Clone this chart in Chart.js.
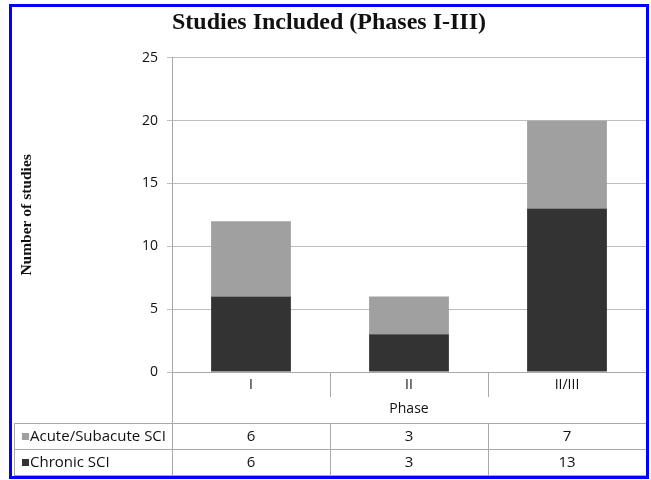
<!DOCTYPE html>
<html>
<head>
<meta charset="utf-8">
<script src="https://cdn.jsdelivr.net/npm/chart.js@4"></script>
<style>
html, body { margin: 0; padding: 0; background: #fff; }
</style>
</head>
<body>
<canvas id="myChart" width="651" height="480"></canvas>
<script>
var phases = ['I', 'II', 'II/III'];
var acuteSCI = [6, 3, 7];
var chronicSCI = [6, 3, 13];
var yMax = 25;
var yStep = 5;

var acuteColor = '#a0a0a0';
var chronicColor = '#333333';
var lineColor = '#a8a8a8';

// data table under the x axis, columns follow the category scale
var dataTable = {
    id: 'dataTable',
    afterDraw: function(chart) {
        var ctx = chart.ctx;
        var xs = chart.scales.x;
        var w = (xs.right - xs.left) / phases.length;
        var top = xs.bottom;
        var rowH = 26;
        var left = 14;
        var bottom = top + rowH * 2;
        ctx.save();
        ctx.strokeStyle = lineColor;
        ctx.lineWidth = 1;
        ctx.beginPath();
        for (var i = 1; i < phases.length; i++) {
            var x = Math.round(xs.getPixelForValue(i) - w / 2) + 0.5;
            ctx.moveTo(x, xs.top);
            ctx.lineTo(x, xs.top + 25);
            ctx.moveTo(x, top);
            ctx.lineTo(x, bottom);
        }
        var lx = Math.round(xs.left) + 0.5;
        var rx = Math.round(xs.right) + 0.5;
        ctx.moveTo(lx, xs.top);
        ctx.lineTo(lx, bottom);
        ctx.moveTo(rx, top);
        ctx.lineTo(rx, bottom);
        ctx.moveTo(left + 0.5, top);
        ctx.lineTo(left + 0.5, bottom);
        for (var r = 0; r <= 2; r++) {
            var y = Math.round(top + r * rowH) + 0.5;
            ctx.moveTo(left, y);
            ctx.lineTo(rx, y);
        }
        ctx.stroke();

        var rows = [
            { label: 'Acute/Subacute SCI', color: acuteColor, values: acuteSCI },
            { label: 'Chronic SCI', color: chronicColor, values: chronicSCI }
        ];
        ctx.font = '15px "Open Sans"';
        ctx.textBaseline = 'middle';
        rows.forEach(function(row, r) {
            var cy = top + r * rowH + rowH / 2 + 1;
            ctx.fillStyle = row.color;
            ctx.fillRect(left + 8, Math.round(cy - 4), 7, 7);
            ctx.fillStyle = '#111';
            ctx.textAlign = 'left';
            ctx.fillText(row.label, left + 16, cy);
            ctx.textAlign = 'center';
            row.values.forEach(function(v, i) {
                ctx.fillText(String(v), xs.getPixelForValue(i), cy);
            });
        });

        // blue frame of the figure
        ctx.strokeStyle = '#0000ff';
        ctx.lineWidth = 3;
        ctx.strokeRect(10.5, 5.5, 637, 472);
        ctx.restore();
    }
};

new Chart(document.getElementById('myChart'), {
    type: 'bar',
    data: {
        labels: phases,
        datasets: [
            { label: 'Chronic SCI', data: chronicSCI, backgroundColor: chronicColor },
            { label: 'Acute/Subacute SCI', data: acuteSCI, backgroundColor: acuteColor }
        ]
    },
    options: {
        responsive: false,
        animation: false,
        layout: { padding: { left: 12, right: 5, top: 0, bottom: 57 } },
        datasets: { bar: { categoryPercentage: 1, barPercentage: 0.505 } },
        plugins: {
            legend: { display: false },
            tooltip: { enabled: false },
            title: {
                display: true,
                text: 'Studies Included (Phases I-III)',
                color: '#111',
                font: { family: '"Liberation Serif"', size: 24, weight: 'bold' },
                padding: { top: 8, bottom: 21 }
            }
        },
        scales: {
            x: {
                stacked: true,
                grid: { display: false, drawTicks: false },
                border: { color: lineColor },
                ticks: { color: '#111', font: { family: '"Open Sans"', size: 14 }, padding: 5 },
                title: {
                    display: true,
                    text: 'Phase',
                    color: '#111',
                    font: { family: '"Open Sans"', size: 14 },
                    padding: { top: 6, bottom: 6 }
                },
                afterFit: function(scale) { scale.height = 51; }
            },
            y: {
                stacked: true,
                min: 0,
                max: yMax,
                ticks: { stepSize: yStep, color: '#111', font: { family: '"Open Sans"', size: 14 }, padding: 9 },
                grid: { color: '#bdbdbd', tickLength: 5 },
                border: { color: lineColor },
                title: {
                    display: true,
                    text: 'Number of studies',
                    color: '#111',
                    font: { family: '"Liberation Serif"', size: 15.5, weight: 'bold' },
                    padding: { top: 6, bottom: 0 }
                },
                afterFit: function(scale) { scale.width = 160; }
            }
        }
    },
    plugins: [dataTable]
});
</script>
</body>
</html>
